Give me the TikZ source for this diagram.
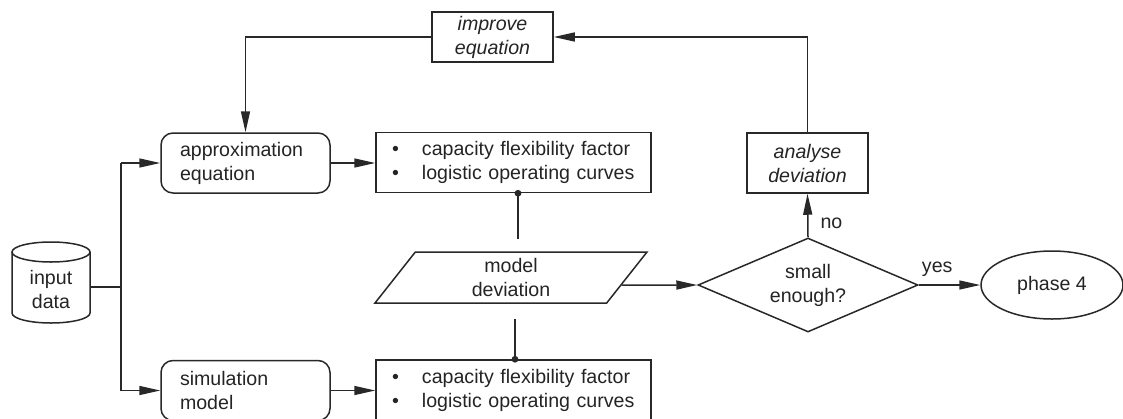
\documentclass[tikz,border=0pt]{standalone}
\usepackage{fontspec}
\setmainfont{Liberation Sans}
\usetikzlibrary{shapes.geometric,arrows.meta,calc}
\newcommand\dfont{\fontsize{19.6}{24}\selectfont}
\definecolor{lc}{HTML}{282828}
\definecolor{tc}{HTML}{242424}
\tikzset{
  base/.style={draw=lc, line width=1.5pt, font=\dfont, text=tc, inner sep=0pt},
  rbox/.style={base, rounded corners=12pt, minimum width=169pt, minimum height=60pt, align=left, text width=131pt},
  lbox/.style={base, minimum width=275pt, minimum height=60pt, align=left, text width=243pt},
  ibox/.style={base, font=\dfont\itshape, minimum width=121pt, align=center},
  conn/.style={draw=lc, line width=1.5pt},
  arr/.style={conn, -{Triangle[length=21pt,width=9pt]}},
  lbl/.style={font=\dfont, text=tc, inner sep=0pt}
}
\newcommand\bul{\makebox[30pt][l]{\textbullet}}
\begin{document}
\begin{tikzpicture}[x=1pt,y=-1pt]
\useasboundingbox (0,0) rectangle (1123,418);
% input data cylinder
\draw[conn] (12,252) -- (12,313) arc[start angle=180, end angle=0, x radius=39, y radius=10] -- (90,252);
\draw[conn] (51,252) ellipse[x radius=39, y radius=10];
\node[lbl, align=center, minimum width=78pt] (cyl) at (51,289) {input\\data};
\node[rbox] (approx) at (245.5,163) {approximation\\equation};
\node[rbox] (sim) at (245.5,390.5) {simulation\\model};
\node[lbox] (list1) at (513.5,162.5) {\bul capacity flexibility factor\\\bul logistic operating curves};
\node[lbox] (list2) at (513.5,390) {\bul capacity flexibility factor\\\bul logistic operating curves};
\node[base, trapezium, trapezium left angle=43.6, trapezium right angle=136.4, trapezium stretches body, minimum width=272pt, minimum height=51pt, align=center] (md) at (511,277.5) {model\\deviation};
\node[base, diamond, aspect=2.34, minimum width=220pt, minimum height=94pt, align=center] (dia) at (808,285) {small\\enough?};
\node[ibox, minimum height=60pt] (ana) at (807.5,163) {analyse\\deviation};
\node[ibox, minimum height=50pt] (imp) at (492.5,37) {improve\\equation};
\node[base, ellipse, minimum width=142pt, minimum height=68pt] (ph) at (1052,285) {phase 4};

\coordinate (j) at (121,287);
\draw[conn] (cyl.east |- j) -- (j);
\draw[conn] (j |- approx.west) -- (j |- sim.west);
\draw[arr] (j |- approx.west) -- (approx.west);
\draw[arr] (j |- sim.west) -- (sim.west);
\draw[arr] (approx.east) -- (approx.east -| list1.west);
\draw[arr] (sim.east) -- (sim.east -| list2.west);

\coordinate (d1) at ([xshift=4.5pt]list1.south);
\coordinate (d2) at ([xshift=1.5pt]list2.north);
\fill[lc] (d1) circle (3.4pt);
\fill[lc] (d2) circle (3.4pt);
\draw[conn] (d1) -- ++(0,46);
\draw[conn] (d2) -- ++(0,-40);

\draw[arr] (md.-4.24) -- (dia.west);
\draw[arr] (dia.north) -- (ana.south) node[lbl, pos=0.33, right=12pt] {no};
\draw[arr] (dia.east) -- (ph.west) node[lbl, pos=0.3, above=8pt] {yes};
\draw[arr] (ana.north) |- (imp.east);
\draw[arr] (imp.west) -| (approx.north);
\end{tikzpicture}
\end{document}
